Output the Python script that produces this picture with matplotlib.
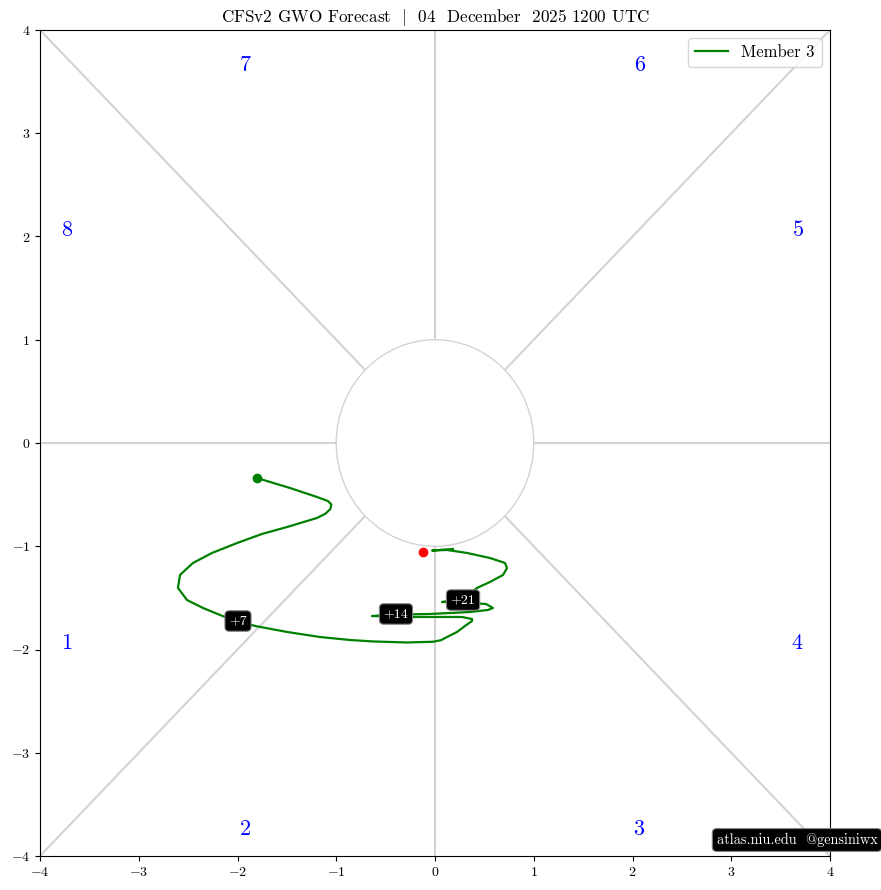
import numpy as np
import matplotlib
matplotlib.use("Agg")
import matplotlib.pyplot as plt
from matplotlib.patches import Circle

plt.rcParams['font.family'] = ['cmr10', 'DejaVu Serif']
plt.rcParams['mathtext.fontset'] = 'cm'
plt.rcParams['axes.formatter.use_mathtext'] = True

# Track data (GWO phase space)
track_x = [-1.803, -1.468, -1.195, -1.084, -1.050, -1.060, -1.110, -1.195, -1.499, -1.752, -2.005,
           -2.258, -2.451, -2.582, -2.603, -2.511, -2.349, -2.127, -1.995, -1.823, -1.499,
           -1.165, -0.861, -0.628, -0.284, -0.020, 0.060, 0.122, 0.223, 0.304, 0.375, 0.375,
           0.273, 0.051, -0.223, -0.405, -0.638, -0.405, -0.051, 0.354, 0.537, 0.587,
           0.516, 0.354, 0.203, 0.071, 0.284, 0.425, 0.557, 0.689, 0.729, 0.709,
           0.557, 0.324, 0.122, -0.030, 0.182]
track_y = [-0.339, -0.436, -0.523, -0.562, -0.595, -0.640, -0.685, -0.726, -0.814, -0.881, -0.969,
           -1.065, -1.162, -1.278, -1.404, -1.521, -1.598, -1.685, -1.724, -1.772, -1.830,
           -1.879, -1.908, -1.922, -1.932, -1.925, -1.910, -1.879, -1.830, -1.772, -1.724, -1.705,
           -1.685, -1.685, -1.685, -1.680, -1.676, -1.661, -1.656, -1.637, -1.617, -1.598,
           -1.559, -1.550, -1.540, -1.540, -1.511, -1.404, -1.346, -1.278, -1.211, -1.162,
           -1.114, -1.065, -1.036, -1.041, -1.027]

start_pt = (-1.803, -0.339)
red_pt = (-0.122, -1.056)

day_labels = ['+7', '+14', '+21']
day_x = [-1.995, -0.395, 0.284]
day_y = [-1.724, -1.656, -1.521]

phase_labels = ['1', '2', '3', '4', '5', '6', '7', '8']
phase_x = [-3.727, -1.924, 2.066, 3.666, 3.676, 2.076, -1.924, -3.727]
phase_y = [-1.937, -3.741, -3.741, -1.937, 2.063, 3.661, 3.661, 2.063]

title = "CFSv2 GWO Forecast  $|$  04  December  2025 1200 UTC"
member = "Member 3"

fig = plt.figure(figsize=(8.81, 8.90), dpi=100)
ax = fig.add_axes([40/881, 1-856/890, 790/881, 826/890])
ax.set_xlim(-4, 4)
ax.set_ylim(-4, 4)

gc = 'lightgray'
r = np.sqrt(0.5)
for (x0, y0, x1, y1) in [(-4, 4, -r, r), (4, 4, r, r), (-4, -4, -r, -r), (4, -4, r, -r),
                         (0, 1, 0, 4), (0, -1, 0, -4), (-4, 0, -1, 0), (1, 0, 4, 0)]:
    ax.plot([x0, x1], [y0, y1], color=gc, lw=1.5, zorder=1)
ax.add_patch(Circle((0, 0), 1, facecolor='white', edgecolor=gc, lw=1, zorder=2))

for lab, px, py in zip(phase_labels, phase_x, phase_y):
    ax.text(px, py, lab, color='blue', fontsize=16, ha='center', va='center', zorder=3)

ax.plot(track_x, track_y, color='green', lw=1.6, label=member, zorder=4)
ax.plot(*start_pt, 'o', color='green', ms=6, zorder=5)
ax.plot(*red_pt, 'o', color='red', ms=6, zorder=5)

for lab, px, py in zip(day_labels, day_x, day_y):
    ax.text(px, py, lab, color='white', fontsize=10, ha='center', va='center', zorder=6,
            bbox=dict(boxstyle='round,pad=0.3', fc='black', ec='gray', lw=0.8))

ax.legend(loc='upper right', fontsize=12)
ax.set_title(title, fontsize=12.3, pad=6)
ax.tick_params(labelsize=10)

fig.text(797/881, 1-840/890, "atlas.niu.edu  @gensiniwx", color='white', fontsize=10.3,
         ha='center', va='center',
         bbox=dict(boxstyle='round,pad=0.3', fc='black', ec='gray', lw=0.8))

fig.savefig('out.png', dpi=100)
